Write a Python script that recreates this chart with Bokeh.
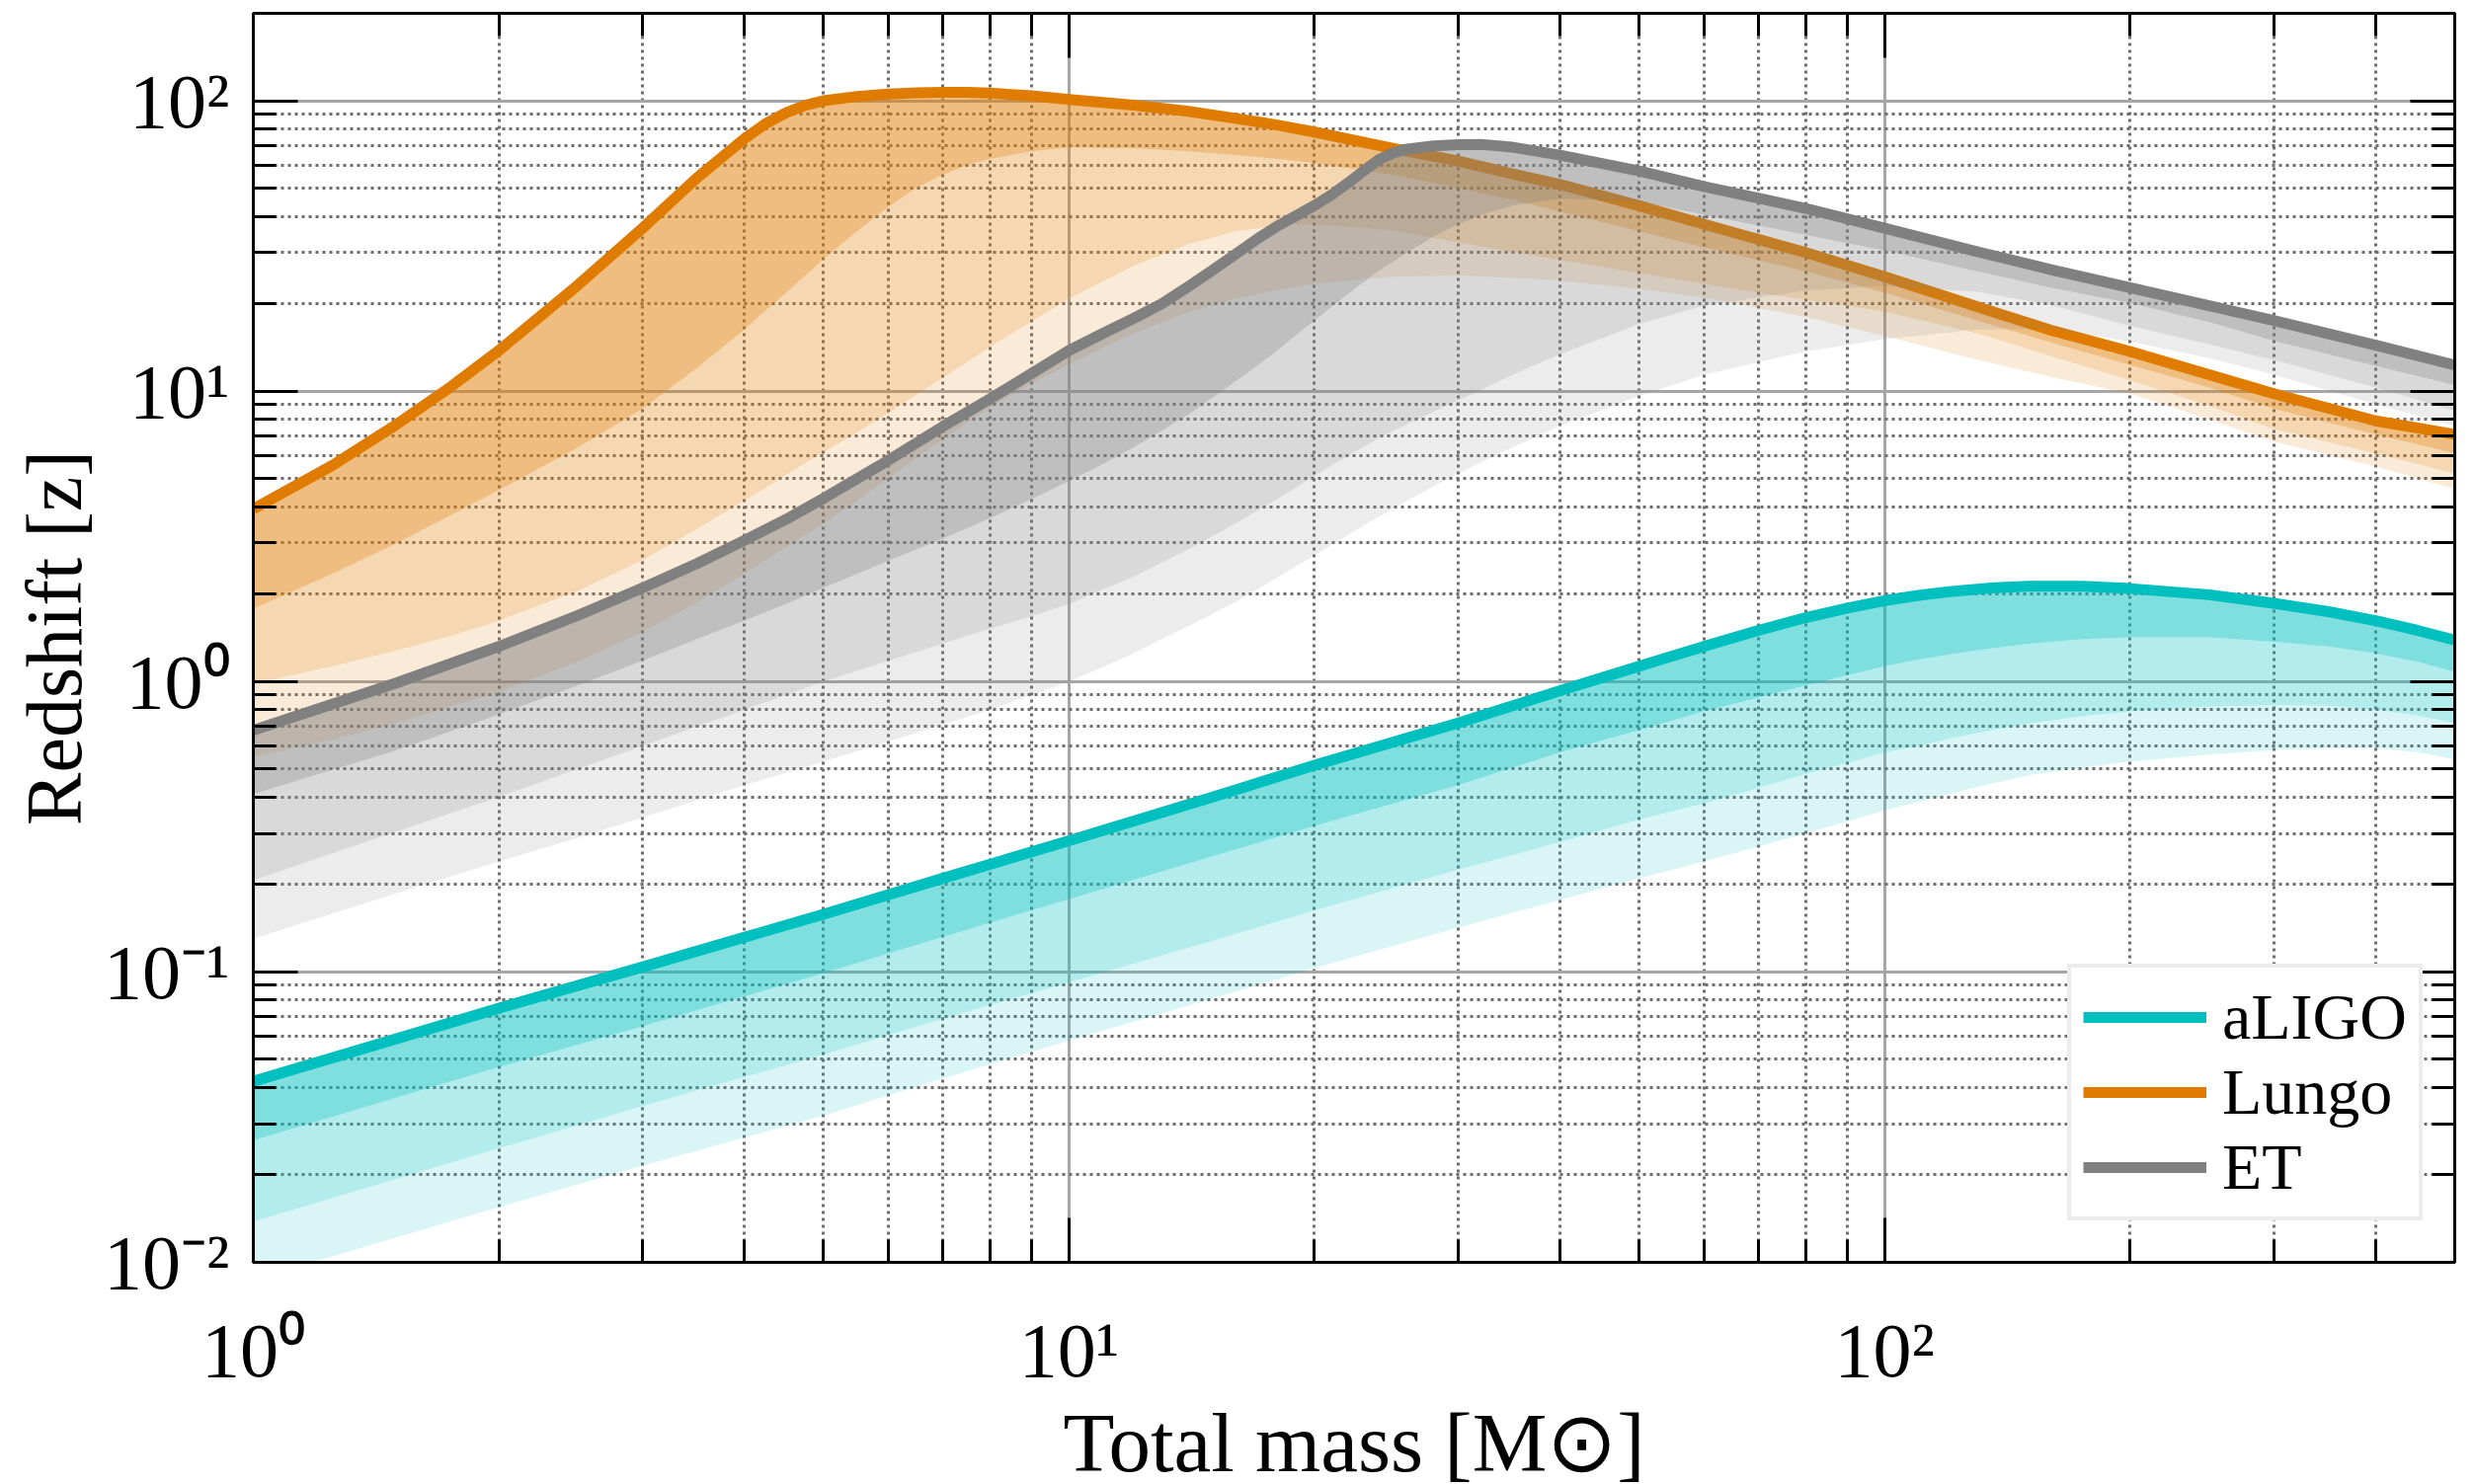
from bokeh.plotting import figure
from bokeh.models import (ColumnDataSource, FixedTicker, LogAxis, CustomJSTickFormatter,
                          Legend, LegendItem, Range1d)
from bokeh.embed import file_html
from bokeh.resources import INLINE

# ---------------- data ----------------
# aLIGO
aligo_mass = [1, 2, 3, 5, 7, 10, 15, 20, 30, 40, 50, 60, 70, 80, 90, 100, 110, 120, 135, 150,
              175, 200, 250, 300, 350, 400, 450, 500]
aligo_top = [0.042, 0.075, 0.104, 0.158, 0.21, 0.283, 0.40, 0.515, 0.72, 0.93, 1.13, 1.32, 1.50,
             1.66, 1.79, 1.90, 1.98, 2.04, 2.10, 2.13, 2.13, 2.09, 1.99, 1.86, 1.74, 1.62, 1.50,
             1.39]
aligo_b1 = [0.0263, 0.047, 0.065, 0.099, 0.132, 0.178, 0.25, 0.318, 0.44, 0.57, 0.68, 0.79, 0.88,
            0.97, 1.05, 1.13, 1.19, 1.24, 1.30, 1.35, 1.40, 1.42, 1.42, 1.37, 1.32, 1.25, 1.17,
            1.08]
aligo_b2 = [0.0138, 0.0247, 0.0345, 0.052, 0.069, 0.092, 0.128, 0.163, 0.225, 0.28, 0.335, 0.38,
            0.43, 0.48, 0.525, 0.57, 0.60, 0.635, 0.68, 0.715, 0.76, 0.79, 0.82, 0.83, 0.825,
            0.80, 0.765, 0.72]
aligo_b3 = [0.0087, 0.0155, 0.0215, 0.032, 0.043, 0.058, 0.081, 0.103, 0.142, 0.177, 0.21, 0.24,
            0.27, 0.30, 0.33, 0.36, 0.385, 0.41, 0.445, 0.475, 0.505, 0.53, 0.56, 0.58, 0.59,
            0.59, 0.57, 0.54]

# Lungo
lungo_mass = [1, 1.25, 1.5, 1.75, 2, 2.5, 3, 3.5, 4, 4.25, 4.5, 4.75, 5, 5.5, 6, 6.5, 7, 7.5, 8,
              9, 10, 12, 14, 16, 18, 20, 25, 30, 35, 40, 50, 60, 80, 100, 130, 160, 200, 250,
              300, 400, 500]
lungo_top = [3.93, 5.55, 7.7, 10.4, 13.8, 23.2, 36.4, 54.3, 74, 83.5, 91, 96.5, 100, 103.5,
             105.5, 106.5, 107, 107, 106.3, 104, 101, 96.5, 92, 87, 82.5, 78, 68.5, 62, 56,
             51.5, 43.5, 37.6, 30, 24.8, 19.5, 16.2, 13.7, 11.4, 9.8, 7.9, 7.1]
lungo_b1 = [1.78, 2.35, 3.0, 3.75, 4.56, 6.4, 8.7, 12.0, 16.3, 19.0, 21.8, 25.0, 28.5, 35.5,
            43, 50, 55.5, 60, 63, 67, 69, 68.5, 67, 65, 63, 61, 55.5, 50, 45.5, 41.5, 35.5,
            31.3, 25.8, 21.8, 17.5, 14.7, 12.3, 10.3, 8.7, 7.1, 6.1]
lungo_b2 = [0.98, 1.13, 1.28, 1.44, 1.62, 2.05, 2.62, 3.35, 4.2, 4.65, 5.15, 5.65, 6.15, 7.2,
            8.4, 9.7, 11.1, 12.6, 14.2, 17.4, 20.8, 27, 32, 35.5, 37.2, 37.5, 35.7, 32.5, 30.2,
            28.3, 25.5, 23.4, 20.6, 18.8, 15.8, 13.2, 10.9, 8.9, 7.4, 6.1, 5.2]
lungo_b3 = [0.55, 0.63, 0.72, 0.82, 0.92, 1.17, 1.48, 1.87, 2.35, 2.62, 2.9, 3.2, 3.5, 4.2,
            5.0, 5.9, 6.8, 7.8, 8.8, 10.6, 12.4, 15.8, 18.7, 20.8, 22.3, 23.4, 24.8, 25, 24.6,
            24, 22.5, 21, 18, 15.5, 12.8, 11.2, 9.8, 8.0, 6.7, 5.5, 4.6]

# ET
et_mass = [1, 1.5, 2, 2.5, 3, 3.5, 4, 4.5, 5, 6, 7, 8, 9, 10, 11, 12, 13, 14, 15, 16, 17, 18,
           19, 20, 21, 22, 23, 24, 25, 26, 28, 30, 32, 35, 40, 50, 60, 80, 100, 130, 160, 200,
           250, 300, 400, 500]
et_top = [0.68, 0.99, 1.32, 1.69, 2.1, 2.55, 3.06, 3.62, 4.27, 5.77, 7.55, 9.4, 11.5, 13.8,
          15.8, 17.8, 20.0, 22.9, 26.1, 29.6, 33.4, 37.0, 40.2, 43.6, 47.5, 52.2, 57.5, 62.8,
          66.2, 68.2, 69.9, 70.6, 70.7, 69.2, 65, 57.3, 50.7, 42.6, 36.4, 30.2, 26.2, 22.7,
          19.7, 17.5, 14.4, 12.3]
et_b1 = [0.41, 0.58, 0.77, 0.97, 1.18, 1.4, 1.62, 1.85, 2.1, 2.6, 3.1, 3.65, 4.25, 4.9, 5.6,
         6.4, 7.3, 8.3, 9.5, 10.8, 12.2, 13.8, 15.6, 17.5, 19.5, 21.6, 23.8, 26, 28, 30, 34,
         37.5, 40.3, 43.5, 46, 45, 40.5, 34.5, 30.5, 25.8, 22.7, 20.1, 17.3, 14.9, 12.2, 10.5]
et_b2 = [0.207, 0.305, 0.40, 0.50, 0.60, 0.70, 0.80, 0.90, 1.0, 1.18, 1.35, 1.52, 1.68, 1.85,
         2.07, 2.3, 2.57, 2.85, 3.17, 3.5, 3.87, 4.25, 4.67, 5.1, 5.55, 6.0, 6.45, 6.9, 7.3,
         7.7, 8.5, 9.3, 10.1, 11.4, 13.4, 17, 19.7, 22.2, 23, 22, 19.8, 16.8, 14.5, 12.8,
         10.3, 8.55]
et_b3 = [0.13, 0.187, 0.24, 0.29, 0.34, 0.39, 0.44, 0.485, 0.53, 0.62, 0.71, 0.80, 0.90, 1.0,
         1.12, 1.25, 1.4, 1.55, 1.71, 1.88, 2.07, 2.28, 2.5, 2.72, 2.96, 3.2, 3.45, 3.7, 3.95,
         4.2, 4.7, 5.2, 5.7, 6.4, 7.6, 9.6, 11.4, 13.7, 15.1, 16.3, 16.4, 14.8, 13.0, 11.4,
         9.0, 7.6]

detectors = ["aLIGO", "Lungo", "ET"]
colors = ["#00bfbf", "#df7c00", "#808080"]

x_major = [1, 10, 100]
x_tick_labels = ["10\u2070", "10\u00b9", "10\u00b2"]
x_minor = [2, 3, 4, 5, 6, 7, 8, 9, 20, 30, 40, 50, 60, 70, 80, 90, 200, 300, 400, 500]
y_major = [0.01, 0.1, 1, 10, 100]
y_tick_labels = ["10\u207b\u00b2", "10\u207b\u00b9", "10\u2070", "10\u00b9", "10\u00b2"]
y_minor = [0.02, 0.03, 0.04, 0.05, 0.06, 0.07, 0.08, 0.09,
           0.2, 0.3, 0.4, 0.5, 0.6, 0.7, 0.8, 0.9,
           2, 3, 4, 5, 6, 7, 8, 9, 20, 30, 40, 50, 60, 70, 80, 90, 200]

series = [
    (aligo_mass, aligo_top, aligo_b1, aligo_b2, aligo_b3),
    (lungo_mass, lungo_top, lungo_b1, lungo_b2, lungo_b3),
    (et_mass, et_top, et_b1, et_b2, et_b3),
]
for s in series:
    assert all(len(a) == len(s[0]) for a in s), [len(a) for a in s]

FONT = "Liberation Serif"

# ---------------- figure ----------------
p = figure(frame_width=2229, frame_height=1265,
           x_axis_type="log", y_axis_type="log",
           x_range=Range1d(1, 500), y_range=Range1d(0.01, 200),
           output_backend="svg", toolbar_location=None,
           min_border_left=256, min_border_right=21, min_border_top=13,
           min_border_bottom=225)
p.background_fill_color = "white"
p.border_fill_color = "white"
p.outline_line_color = "black"
p.outline_line_width = 3

xt = FixedTicker(ticks=x_major, minor_ticks=x_minor)
yt = FixedTicker(ticks=y_major, minor_ticks=y_minor)

top_axis = LogAxis(ticker=xt, formatter=CustomJSTickFormatter(code="return '';"))
right_axis = LogAxis(ticker=yt, formatter=CustomJSTickFormatter(code="return '';"))
p.add_layout(top_axis, "above")
p.add_layout(right_axis, "right")

bottom_axis = p.below[0]
left_axis = p.left[0]
bottom_axis.ticker = xt
left_axis.ticker = yt
bottom_axis.major_label_overrides = dict(zip(x_major, x_tick_labels))
left_axis.major_label_overrides = dict(zip(y_major, y_tick_labels))

for ax in [bottom_axis, left_axis, top_axis, right_axis]:
    ax.axis_line_color = "black"
    ax.axis_line_width = 3
    ax.major_tick_in = 45
    ax.major_tick_out = 0
    ax.minor_tick_in = 23
    ax.minor_tick_out = 0
    ax.major_tick_line_color = "black"
    ax.minor_tick_line_color = "black"
    ax.major_tick_line_width = 3
    ax.minor_tick_line_width = 3

for ax in [bottom_axis, left_axis]:
    ax.major_label_text_font = FONT
    ax.major_label_text_font_size = "78px"
    ax.major_label_text_color = "black"

bottom_axis.major_label_standoff = 45
left_axis.major_label_standoff = 24

bottom_axis.axis_label = "Total mass [M\u2299]"
bottom_axis.axis_label_text_font = FONT
bottom_axis.axis_label_text_font_size = "85px"
bottom_axis.axis_label_text_font_style = "normal"
bottom_axis.axis_label_text_color = "black"
bottom_axis.axis_label_standoff = 0

left_axis.axis_label = "Redshift [z]"
left_axis.axis_label_text_font = FONT
left_axis.axis_label_text_font_size = "80px"
left_axis.axis_label_text_font_style = "normal"
left_axis.axis_label_text_color = "black"
left_axis.axis_label_standoff = 3

p.xgrid.ticker = xt
p.ygrid.ticker = yt
for g in [p.xgrid[0], p.ygrid[0]]:
    g.grid_line_color = "#a6a6a6"
    g.grid_line_width = 3
    g.minor_grid_line_color = "#6e6e6e"
    g.minor_grid_line_width = 3
    g.minor_grid_line_dash = "3 4"

# ---------------- bands and lines ----------------
line_renderers = []
for name, col, (m, top, b1, b2, b3) in zip(detectors, colors, series):
    src = ColumnDataSource(dict(mass=m, top=top, b1=b1, b2=b2, b3=b3))
    p.varea(x="mass", y1="top", y2="b1", source=src, fill_color=col, fill_alpha=0.5)
    p.varea(x="mass", y1="b1", y2="b2", source=src, fill_color=col, fill_alpha=0.3)
    p.varea(x="mass", y1="b2", y2="b3", source=src, fill_color=col, fill_alpha=0.15)
    r = p.line(x="mass", y="top", source=src, line_color=col, line_width=11,
               line_cap="butt", line_join="round")
    line_renderers.append(r)

# ---------------- legend ----------------
legend = Legend(items=[LegendItem(label=n, renderers=[r]) for n, r in zip(detectors, line_renderers)],
                location=(1837, 42))
legend.label_text_font = FONT
legend.label_text_font_size = "66px"
legend.label_text_color = "black"
legend.glyph_width = 125
legend.glyph_height = 70
legend.label_height = 70
legend.label_standoff = 16
legend.padding = 12
legend.spacing = 0
legend.margin = 0
legend.border_line_color = "#d9d9d9"
legend.border_line_width = 4
legend.background_fill_color = "white"
legend.background_fill_alpha = 1.0
p.add_layout(legend)

open("out.html", "w").write(file_html(p, INLINE))
